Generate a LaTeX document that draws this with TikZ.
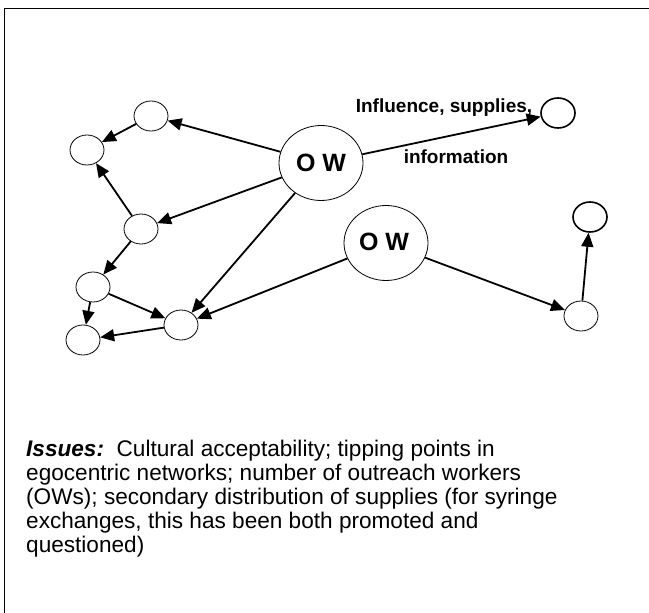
\documentclass[tikz,border=0pt]{standalone}
\usepackage{fontspec}
\setmainfont{Liberation Sans}
\usetikzlibrary{shapes.geometric,arrows.meta}

\begin{document}
\begin{tikzpicture}[x=1pt,y=-1pt,
  person/.style={ellipse, draw, line width=0.8pt, minimum width=34pt, minimum height=30pt, inner sep=0pt},
  heavy/.style={person, line width=1.6pt},
  worker/.style={ellipse, draw, line width=0.8pt, minimum width=84pt, minimum height=75pt, inner sep=0pt,
                 font=\fontsize{25}{25}\selectfont\bfseries},
  link/.style={line width=1.8pt, -{Triangle[length=14pt,width=12pt]}},
  tag/.style={font=\fontsize{19}{19}\selectfont\bfseries, inner sep=0pt},
  note/.style={anchor=base west, inner sep=0pt, font=\fontsize{22.6}{24}\selectfont}]
\useasboundingbox (0,0) rectangle (649,613);

% frame (only the left and top sides fall inside the page)
\draw[line width=1.5pt] (4.5,613) -- (4.5,8.5) -- (649,8.5);

% outreach workers
\node[worker] (ow1) at (321,163) {O W};
\node[worker] (ow2) at (386,243) {\raisebox{2pt}{O W\hspace{4pt}}};

% network members
\node[person] (n1) at (151,116) {};
\node[person] (n2) at (87,150) {};
\node[person] (n3) at (141,229) {};
\node[person] (n4) at (93,287) {};
\node[person] (n5) at (83,340) {};
\node[person] (n6) at (181,325) {};
\node[heavy]  (n7) at (558,113) {};
\node[heavy]  (n8) at (590,217) {};
\node[person] (n9) at (581,316) {};

% ties
\draw[link] (ow1) -- (n1);
\draw[link] (n1) -- (n2);
\draw[link] (ow1) -- (n3);
\draw[link] (n3) -- (n2);
\draw[link] (n3) -- (n4);
\draw[link] (ow1) -- (n6);
\draw[link] (n4) -- (n6);
\draw[link] (n4) -- (n5);
\draw[link] (n6) -- (n5);
\draw[link] (ow2) -- (n6);
\draw[link] (ow1) -- (n7);
\draw[link] (ow2) -- (n9);
\draw[link] (n9) -- (n8);

% tie labels
\node[tag] (lab1) at (444,108) {Influence, supplies,};
\node[tag] (lab2) at (456,157) {information};

% notes
\node[note] (l1) at (26,456) {\textbf{\textit{Issues:}}\ \ Cultural acceptability; tipping points in};
\node[note] (l2) at (26,480) {egocentric networks; number of outreach workers};
\node[note] (l3) at (26,504) {(OWs); secondary distribution of supplies (for syringe};
\node[note] (l4) at (26,528) {exchanges, this has been both promoted and};
\node[note] (l5) at (26,552) {questioned)};
\end{tikzpicture}
\end{document}
